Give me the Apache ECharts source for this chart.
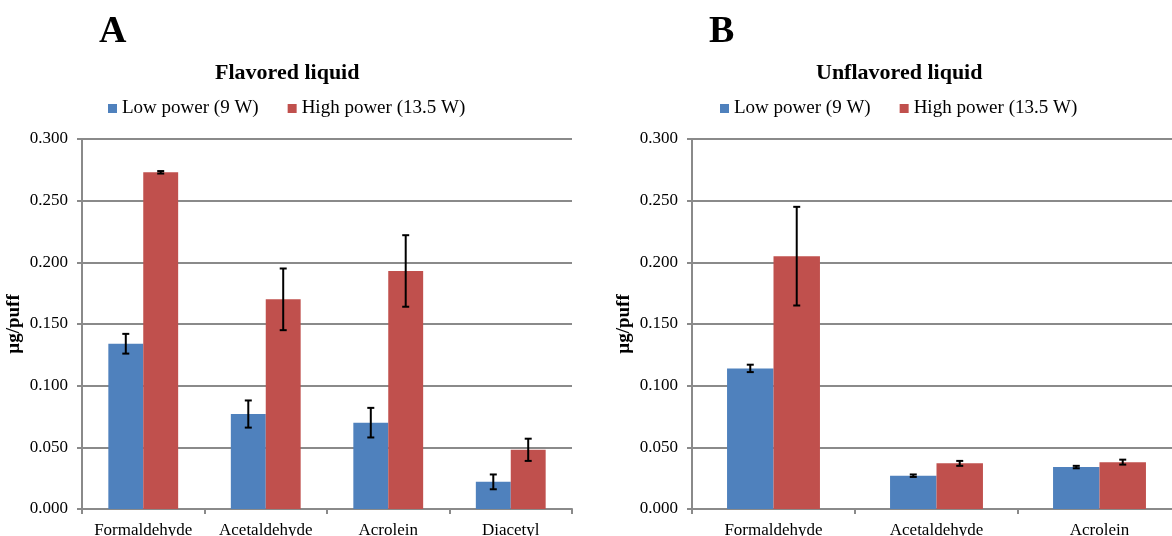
<!DOCTYPE html>
<html>
<head>
<meta charset="utf-8">
<script src="https://cdn.jsdelivr.net/npm/echarts@6/dist/echarts.min.js"></script>
<style>
  html, body { margin: 0; padding: 0; background: #fff; }
  #main { width: 1172px; height: 536px; }
</style>
</head>
<body>
<div id="main"></div>
<script>
var myChart = echarts.init(document.getElementById("main"));

// panel A - flavored liquid
const categoriesA = ["Formaldehyde", "Acetaldehyde", "Acrolein", "Diacetyl"];
const lowA = [0.134, 0.077, 0.070, 0.022];
const lowErrA = [0.008, 0.011, 0.012, 0.006];
const highA = [0.273, 0.170, 0.193, 0.048];
const highErrA = [0.001, 0.025, 0.029, 0.009];

// panel B - unflavored liquid
const categoriesB = ["Formaldehyde", "Acetaldehyde", "Acrolein"];
const lowB = [0.114, 0.027, 0.034];
const lowErrB = [0.003, 0.001, 0.001];
const highB = [0.205, 0.037, 0.038];
const highErrB = [0.040, 0.002, 0.002];

const seriesNames = ["Low power (9 W)", "High power (13.5 W)"];
const yTicks = [0, 0.05, 0.1, 0.15, 0.2, 0.25, 0.3];

const FONT = "Liberation Serif";
const BAR_FRAC = 0.285;
const gridGray = "#8a8a8a";

function errData(vals, errs) {
  return vals.map(function (v, i) { return [i, v, errs[i]]; });
}

function errorRenderer(side) {
  return function (params, api) {
    var cat = api.value(0), val = api.value(1), err = api.value(2);
    var bw = api.size([1, 0])[0] * BAR_FRAC;
    var x = api.coord([cat, val])[0] + side * bw / 2;
    var yTop = api.coord([cat, val + err])[1];
    var yBot = api.coord([cat, val - err])[1];
    var cap = 3.5;
    var st = { stroke: "#000", lineWidth: 2 };
    return {
      type: "group",
      children: [
        { type: "line", shape: { x1: x, y1: yTop, x2: x, y2: yBot }, style: st },
        { type: "line", shape: { x1: x - cap, y1: yTop, x2: x + cap, y2: yTop }, style: st },
        { type: "line", shape: { x1: x - cap, y1: yBot, x2: x + cap, y2: yBot }, style: st }
      ]
    };
  };
}

function makeX(cats, idx) {
  return {
    type: "category",
    gridIndex: idx,
    data: cats,
    axisLine: { lineStyle: { color: gridGray, width: 2 } },
    axisTick: { show: true, length: 5, interval: 0, lineStyle: { color: gridGray, width: 2 } },
    axisLabel: { interval: 0, margin: 13, color: "#000", fontFamily: FONT, fontSize: 17 }
  };
}

function makeY(idx) {
  return {
    type: "value",
    gridIndex: idx,
    min: 0,
    max: yTicks[yTicks.length - 1],
    interval: 0.05,
    name: "µg/puff",
    nameLocation: "middle",
    nameGap: 58,
    nameTextStyle: { fontFamily: FONT, fontSize: 19, fontWeight: "bold", color: "#000" },
    axisLine: { show: true, lineStyle: { color: gridGray, width: 2 } },
    axisTick: { show: true, length: 5, lineStyle: { color: gridGray, width: 2 } },
    splitLine: { lineStyle: { color: gridGray, width: 2 } },
    axisLabel: {
      margin: 14, color: "#000", fontFamily: FONT, fontSize: 17,
      formatter: function (v) { return v.toFixed(3); }
    }
  };
}

function barSeries(name, data, idx, color) {
  return {
    type: "bar", name: name, data: data,
    xAxisIndex: idx, yAxisIndex: idx,
    barWidth: "28.5%", barGap: "0%",
    itemStyle: { color: color }
  };
}

function errSeries(vals, errs, idx, side) {
  return {
    type: "custom",
    xAxisIndex: idx, yAxisIndex: idx,
    data: errData(vals, errs),
    encode: { x: 0, y: 1 },
    renderItem: errorRenderer(side),
    z: 5,
    silent: true
  };
}

const legendBase = {
  itemWidth: 9, itemHeight: 9, itemGap: 29, padding: 0, top: 99,
  icon: "rect",
  textStyle: { fontFamily: FONT, fontSize: 19, color: "#000" },
  data: seriesNames
};

option = {
  animation: false,
  color: ["#4F81BD", "#C0504D"],
  title: [
    { text: "A", left: 99, top: 13, padding: 0, textStyle: { fontFamily: FONT, fontSize: 38, fontWeight: "bold", color: "#000" } },
    { text: "B", left: 709, top: 13, padding: 0, textStyle: { fontFamily: FONT, fontSize: 38, fontWeight: "bold", color: "#000" } },
    { text: "Flavored liquid", left: 215, top: 62, padding: 0, textStyle: { fontFamily: FONT, fontSize: 22, fontWeight: "bold", color: "#000" } },
    { text: "Unflavored liquid", left: 816, top: 62, padding: 0, textStyle: { fontFamily: FONT, fontSize: 22, fontWeight: "bold", color: "#000" } }
  ],
  legend: [
    Object.assign({}, legendBase, { left: 108 }),
    Object.assign({}, legendBase, { left: 720 })
  ],
  // the right panel runs past the picture's edge, as in the source figure
  grid: [
    { left: 82, top: 139, width: 490, height: 370, outerBoundsMode: "none" },
    { left: 692, top: 139, width: 489, height: 370, outerBoundsMode: "none" }
  ],
  xAxis: [makeX(categoriesA, 0), makeX(categoriesB, 1)],
  yAxis: [makeY(0), makeY(1)],
  series: [
    barSeries(seriesNames[0], lowA, 0, "#4F81BD"),
    barSeries(seriesNames[1], highA, 0, "#C0504D"),
    barSeries(seriesNames[0], lowB, 1, "#4F81BD"),
    barSeries(seriesNames[1], highB, 1, "#C0504D"),
    errSeries(lowA, lowErrA, 0, -1),
    errSeries(highA, highErrA, 0, 1),
    errSeries(lowB, lowErrB, 1, -1),
    errSeries(highB, highErrB, 1, 1)
  ]
};

myChart.setOption(option);
</script>
</body>
</html>
